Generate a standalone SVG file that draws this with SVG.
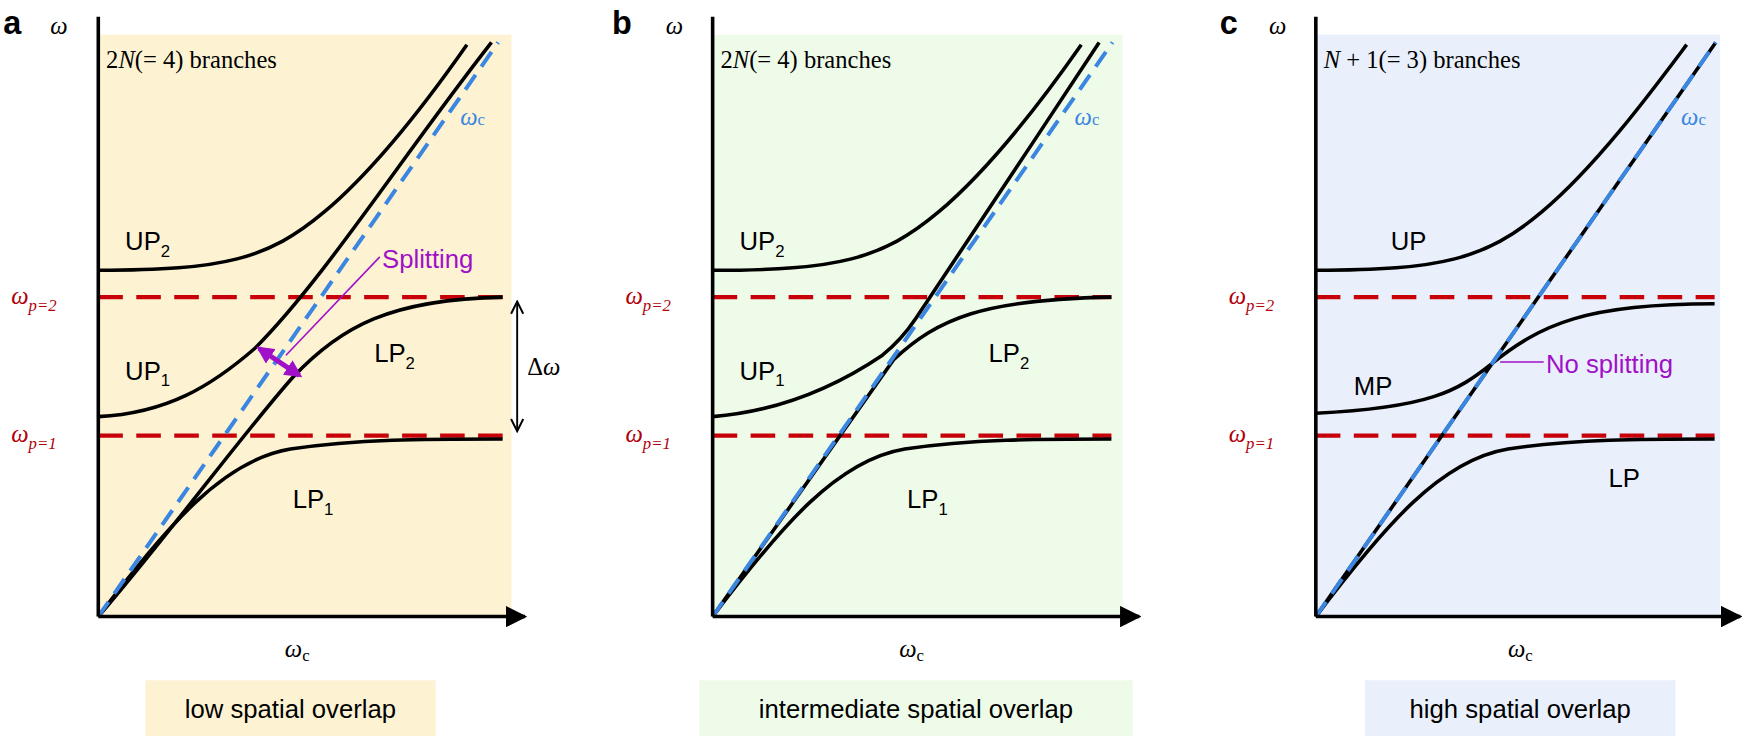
<svg xmlns="http://www.w3.org/2000/svg" width="1752" height="738" viewBox="0 0 1752 738">
<defs>
<marker id="ah" viewBox="0 0 10 10" refX="9" refY="5" markerWidth="6" markerHeight="6" orient="auto"><path d="M0,0 L10,5 L0,10 z" fill="#000"/></marker>
<marker id="th" viewBox="0 0 10 10" refX="9" refY="5" markerWidth="8" markerHeight="8" orient="auto-start-reverse"><path d="M1,1 L9,5 L1,9" fill="none" stroke="#000" stroke-width="1.3"/></marker>
<marker id="pa" viewBox="0 0 10 10" refX="8" refY="5" markerWidth="3.5" markerHeight="3.5" orient="auto-start-reverse"><path d="M0,0 L10,5 L0,10 z" fill="#a010c8"/></marker>
</defs>
<style>
.c{fill:none;stroke:#000;stroke-width:3.2}
.ax{stroke:#000;stroke-width:3.2;marker-end:url(#ah)}
.bl{fill:none;stroke:#3a86e0;stroke-width:3.6;stroke-dasharray:16,9}
.rd{stroke:#c8000a;stroke-width:3.6;stroke-dasharray:22,12}
.s{font-family:"Liberation Sans",Arial,sans-serif;font-size:23px}
.m{font-family:"Liberation Serif","DejaVu Serif",serif;font-style:italic}
.r{font-family:"Liberation Serif","DejaVu Serif",serif;font-size:22px}
.sub{font-size:15px}
.red{fill:#b0000a}
.pu{fill:#a010c8}
.bt{fill:#3a86e0}
.L{font-family:"Liberation Sans",Arial,sans-serif;font-weight:bold;font-size:29px}
</style>
<g transform="scale(1.117)">
<g id="backgrounds">
<rect x="88" y="31" width="370" height="521" fill="#fdf3d3"/>
<rect x="638" y="31" width="367" height="521" fill="#effbe9"/>
<rect x="1178" y="31" width="362" height="521" fill="#eaf0fb"/>
<rect x="130" y="609" width="260" height="50" fill="#fdf3d3"/>
<rect x="626" y="609" width="388" height="50" fill="#effbe9"/>
<rect x="1222" y="609" width="278" height="50" fill="#eaf0fb"/>
</g>
<g id="panel-a">
<path class="rd" d="M88,266 H450 M88,390 H450"/>
<path class="c" d="M88,242 C200,242 240,232 290,190 S390,80 418,40"/>
<path class="c" d="M88,373 C150,370 190,345 228,312 C290,250 360,140 440,38"/>
<path class="c" d="M88,552 C150,480 220,385 262,338 C305,292 350,268 450,266"/>
<path class="c" d="M88,552 C150,470 200,412 260,402 C320,393 380,393 450,393"/>
<path class="bl" d="M88,552 L446,38"/>
<path d="M88,552 V15 M88,552 H470" class="ax"/>
<line x1="232" y1="312" x2="268" y2="336" stroke="#a010c8" stroke-width="4.5" marker-start="url(#pa)" marker-end="url(#pa)"/>
<line x1="256" y1="318" x2="340" y2="230" stroke="#a010c8" stroke-width="1.4"/>
<text x="342" y="240" class="s pu">Splitting</text>
<line x1="463" y1="270" x2="463" y2="386" stroke="#000" stroke-width="1.7" marker-start="url(#th)" marker-end="url(#th)"/>
<text x="472" y="336" class="r">Δ<tspan class="m">ω</tspan></text>
<text x="112" y="224" class="s">UP<tspan class="sub" dy="6">2</tspan></text>
<text x="112" y="340" class="s">UP<tspan class="sub" dy="6">1</tspan></text>
<text x="335" y="324" class="s">LP<tspan class="sub" dy="6">2</tspan></text>
<text x="262" y="455" class="s">LP<tspan class="sub" dy="6">1</tspan></text>
<text x="412" y="112" class="r m bt">ω<tspan class="sub" font-style="normal">c</tspan></text>
<text x="95" y="61" class="r">2<tspan class="m">N</tspan>(= 4)  branches</text>
<text x="3" y="30" class="L">a</text>
<text x="45" y="30" class="r m">ω</text>
<text x="10" y="272" class="r m red">ω<tspan class="sub" dy="6">p=2</tspan></text>
<text x="10" y="396" class="r m red">ω<tspan class="sub" dy="6">p=1</tspan></text>
<text x="255" y="588" class="r m">ω<tspan class="sub" font-style="normal" dy="4">c</tspan></text>
<text x="260" y="643" class="s" text-anchor="middle">low spatial overlap</text>
</g>
<g id="panel-b">
<path class="rd" d="M638,266 H995 M638,390 H995"/>
<path class="c" d="M638,242 C750,242 790,232 840,190 S940,80 968,40"/>
<path class="c" d="M638,373 C700,368 750,345 790,318 C800,310 810,300 820,285 C870,210 930,120 984,38"/>
<path class="c" d="M638,552 C700,465 760,380 800,322 C840,285 880,268 995,266"/>
<path class="c" d="M638,552 C700,470 750,412 810,402 C870,393 930,393 995,393"/>
<path class="bl" d="M638,552 L996,38"/>
<path d="M638,552 V15 M638,552 H1020" class="ax"/>
<text x="662" y="224" class="s">UP<tspan class="sub" dy="6">2</tspan></text>
<text x="662" y="340" class="s">UP<tspan class="sub" dy="6">1</tspan></text>
<text x="885" y="324" class="s">LP<tspan class="sub" dy="6">2</tspan></text>
<text x="812" y="455" class="s">LP<tspan class="sub" dy="6">1</tspan></text>
<text x="962" y="112" class="r m bt">ω<tspan class="sub" font-style="normal">c</tspan></text>
<text x="645" y="61" class="r">2<tspan class="m">N</tspan>(= 4)  branches</text>
<text x="548" y="30" class="L">b</text>
<text x="596" y="30" class="r m">ω</text>
<text x="560" y="272" class="r m red">ω<tspan class="sub" dy="6">p=2</tspan></text>
<text x="560" y="396" class="r m red">ω<tspan class="sub" dy="6">p=1</tspan></text>
<text x="805" y="588" class="r m">ω<tspan class="sub" font-style="normal" dy="4">c</tspan></text>
<text x="820" y="643" class="s" text-anchor="middle">intermediate spatial overlap</text>
</g>
<g id="panel-c">
<path class="rd" d="M1178,266 H1535 M1178,390 H1535"/>
<path class="c" d="M1178,242 C1290,242 1330,232 1380,190 S1480,80 1510,40"/>
<path class="c" d="M1178,370 C1280,365 1305,350 1335,326 C1380,290 1420,272 1535,272"/>
<path class="c" d="M1178,552 C1240,470 1290,412 1350,402 C1410,393 1470,393 1535,393"/>
<path class="c" d="M1178,552 L1536,38"/>
<path class="bl" d="M1178,552 L1536,38"/>
<path d="M1178,552 V15 M1178,552 H1558" class="ax"/>
<line x1="1343" y1="324" x2="1382" y2="324" stroke="#a010c8" stroke-width="1.4"/>
<text x="1384" y="334" class="s pu">No splitting</text>
<text x="1245" y="224" class="s">UP</text>
<text x="1212" y="354" class="s">MP</text>
<text x="1440" y="436" class="s">LP</text>
<text x="1505" y="112" class="r m bt">ω<tspan class="sub" font-style="normal">c</tspan></text>
<text x="1185" y="61" class="r"><tspan class="m">N</tspan> + 1(= 3)  branches</text>
<text x="1092" y="30" class="L">c</text>
<text x="1136" y="30" class="r m">ω</text>
<text x="1100" y="272" class="r m red">ω<tspan class="sub" dy="6">p=2</tspan></text>
<text x="1100" y="396" class="r m red">ω<tspan class="sub" dy="6">p=1</tspan></text>
<text x="1350" y="588" class="r m">ω<tspan class="sub" font-style="normal" dy="4">c</tspan></text>
<text x="1361" y="643" class="s" text-anchor="middle">high spatial overlap</text>
</g>
</g>
</svg>
